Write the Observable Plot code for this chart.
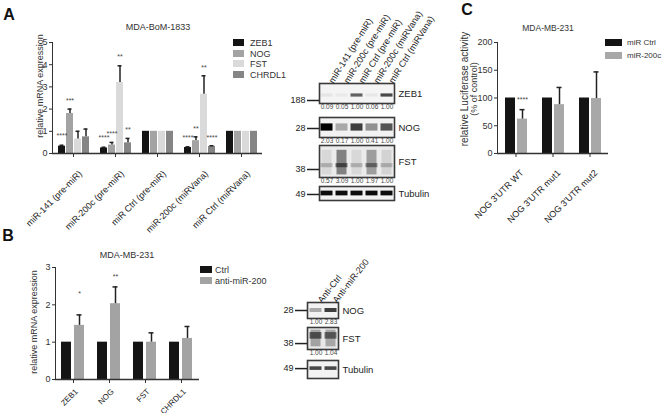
<!DOCTYPE html>
<html><head><meta charset="utf-8">
<script src="https://cdn.jsdelivr.net/npm/d3@7"></script>
<script src="https://cdn.jsdelivr.net/npm/@observablehq/plot@0.6"></script>
<style>
body{margin:0;background:#fff;}
#fig{position:relative;width:666px;height:413px;overflow:hidden;background:#fff;font-family:"Liberation Sans",Arial,sans-serif;color:#333;}
.abs{position:absolute;}
.t{position:absolute;white-space:nowrap;line-height:1;}
.sw{position:absolute;}
</style></head><body><div id="fig"></div>
<script>
// ---------- Panel A data ----------
const groupsA = ["miR-141 (pre-miR)", "miR-200c (pre-miR)", "miR Ctrl (pre-miR)", "miR-200c (miRVana)", "miR Ctrl (miRVana)"];
const genesA = ["ZEB1", "NOG", "FST", "CHRDL1"];
const colorsA = ["#141414", "#a3a3a3", "#dadada", "#858585"];
const valuesA = [[0.33, 1.80, 0.65, 0.75], [0.25, 0.38, 3.20, 0.48], [1, 1, 1, 1], [0.27, 0.58, 2.67, 0.32], [1, 1, 1, 1]];
const errA = [[0.04, 0.20, 0.35, 0.35], [0.03, 0.12, 0.75, 0.20], [0, 0, 0, 0], [0.03, 0.17, 0.83, 0.03], [0, 0, 0, 0]];
const starsA = [["****", "***", "", ""], ["****", "****", "**", "**"], ["", "", "", ""], ["****", "**", "**", "****"], ["", "", "", ""]];
const starPosA = [[0.9, 2.45, 0, 0], [0.8, 1.0, 4.45, 1.15], [0, 0, 0, 0], [0.8, 1.2, 3.95, 0.82], [0, 0, 0, 0]];
const ticksA = [0, 1, 2, 3, 4, 5];

// ---------- Panel B data ----------
const genesB = ["ZEB1", "NOG", "FST", "CHRDL1"];
const seriesB = ["Ctrl", "anti-miR-200"];
const colorsB = ["#141414", "#a3a3a3"];
const valuesB = [[1, 1.45], [1, 2.03], [1, 1.0], [1, 1.1]];
const errB = [[0, 0.28], [0, 0.45], [0, 0.25], [0, 0.32]];
const starsB = [["", "*"], ["", "**"], ["", ""], ["", ""]];
const starPosB = [[0, 2.35], [0, 2.8], [0, 0], [0, 0]];
const ticksB = [0, 1, 2, 3];

// ---------- Panel C data ----------
const constructsC = ["NOG 3'UTR WT", "NOG 3'UTR mut1", "NOG 3'UTR mut2"];
const seriesC = ["miR Ctrl", "miR-200c"];
const colorsC = ["#141414", "#a8a8a8"];
const valuesC = [[100, 62], [100, 88], [100, 99]];
const errC = [[0, 17], [0, 31], [0, 48]];
const starsC = [["", "****"], ["", ""], ["", ""]];
const starPosC = [[0, 101], [0, 0], [0, 0]];
const ticksC = [0, 50, 100, 150, 200];

// ---------- Western blot data ----------
const lanesA = groupsA;
const proteinsA = ["ZEB1", "NOG", "FST", "Tubulin"];
const mwA = ["188", "28", "38", "49"];
const quantA = [[0.09, 0.05, 1.00, 0.06, 1.00], [2.03, 0.17, 1.00, 0.41, 1.00], [0.57, 3.09, 1.00, 1.97, 1.00], null];
const bandsA = [[0.06, 0.04, 0.6, 0.05, 0.7], [1.0, 0.3, 0.75, 0.4, 0.65], [0.2, 0.5, 0.2, 0.4, 0.2], [0.95, 0.95, 0.95, 0.95, 0.95]];
const smearA = [null, null, [0.08, 0.45, 0.08, 0.33, 0.1], null];

const lanesB = ["Anti-Ctrl", "Anti-miR-200"];
const proteinsB = ["NOG", "FST", "Tubulin"];
const mwB = ["28", "38", "49"];
const quantB = [[1.00, 2.83], [1.00, 1.04], null];
const bandsB = [[0.3, 0.75], [0.55, 0.5], [0.7, 0.7]];
const smearB = [null, [0.3, 0.28], null];

// ---------- helpers ----------
const fig = document.getElementById("fig");
const FONT = '"Liberation Sans", Arial, sans-serif';
const baseStyle = {fontFamily: FONT, fontSize: "9px", color: "#333", background: "transparent", overflow: "visible", maxWidth: "none"};
let uid = 0;

function put(node, left, top) {
  const d = document.createElement("div");
  d.className = "abs"; d.style.left = left + "px"; d.style.top = top + "px";
  d.appendChild(node); fig.appendChild(d); return d;
}
function label(text, x, y, {size = 9, anchor = "middle", rotate = 0, weight = "normal", color = "#333", html = false, lh = 1} = {}) {
  const d = document.createElement("div");
  d.className = "t";
  if (html) d.innerHTML = text; else d.textContent = text;
  d.style.fontSize = size + "px"; d.style.fontWeight = weight; d.style.color = color;
  d.style.lineHeight = lh; d.style.textAlign = "center";
  d.style.left = x + "px"; d.style.top = y + "px";
  const tx = anchor === "middle" ? "-50%" : anchor === "end" ? "-100%" : "0";
  d.style.transform = `translate(${tx},-50%)` + (rotate ? ` rotate(${rotate}deg)` : "");
  fig.appendChild(d); return d;
}
function swatch(color, x, y, w, h) {
  const d = document.createElement("div");
  d.className = "sw"; d.style.left = x + "px"; d.style.top = y + "px";
  d.style.width = w + "px"; d.style.height = h + "px"; d.style.background = color;
  fig.appendChild(d);
}
function table(groups, series, values, errs, stars, starPos) {
  const rows = [];
  groups.forEach((g, i) => series.forEach((s, j) => rows.push({group: g, series: s, value: values[i][j], err: errs[i][j], star: stars[i][j], starY: starPos[i][j]})));
  return rows;
}
function groupedBars({data, groups, series, colors, yDomain, yTicks, left, top, width, height, mL, mR, mT, mB, pi, po, capInset, shift = [7, 7], fxFont = 9}) {
  const svg = Plot.plot({
    width, height, marginLeft: mL, marginRight: mR, marginTop: mT, marginBottom: mB,
    style: baseStyle,
    facet: {data, x: "group"},
    fx: {domain: groups, padding: 0, tickRotate: -45, label: null, tickSize: 4, axis: "bottom"},
    x: {domain: series, axis: null, paddingInner: pi, paddingOuter: po},
    y: {domain: yDomain, ticks: yTicks, tickFormat: d => String(d), tickSize: 3, tickPadding: 2, label: null, line: true},
    color: {domain: series, range: colors},
    marks: [
      Plot.barY(data, {x: "series", y: "value", fill: "series"}),
      Plot.ruleX(data, {filter: d => d.err > 0, x: "series", y1: "value", y2: d => d.value + d.err, stroke: "#222", strokeWidth: 1.5}),
      Plot.tickY(data, {filter: d => d.err > 0, x: "series", y: d => d.value + d.err, stroke: "#222", strokeWidth: 1.5, insetLeft: capInset, insetRight: capInset}),
      Plot.text(data, {filter: d => d.star, x: "series", y: "starY", text: "star", fontSize: 7, fill: "#444", dy: 2}),
      Plot.ruleY([0], {stroke: "#333", strokeWidth: 1.3})
    ]
  });
  d3.select(svg).selectAll('g[aria-label="fx-axis tick label"]').each(function() {
    const t = this.getAttribute("transform") || "";
    this.setAttribute("transform", `translate(${shift[0]},${shift[1]}) ` + t);
  });
  d3.select(svg).selectAll('g[aria-label="fx-axis tick label"] text').style("fill", "#222").style("font-size", fxFont + "px");
  put(svg, left, top);
  return svg;
}
function blotRow({lanes, bands, quant, smear, protein, mw, mwY, bandY, bandH, smearY1, smearY2, bg, boxLeft, boxTop, boxW, boxH, mT, mB, laneRotate, mL = 34, mR = 44, blur = 0.9}) {
  const data = lanes.map((l, i) => ({lane: l, v: bands[i], q: quant ? quant[i] : null, s: smear ? smear[i] : 0}));
  const marks = [Plot.frame({fill: bg})];
  if (smear) marks.push(Plot.barY(data, {x: "lane", y1: smearY1, y2: smearY2, fill: "#000", fillOpacity: "s", insetLeft: 2.5, insetRight: 2.5, ariaLabel: "smear"}));
  marks.push(Plot.barY(data, {x: "lane", y1: bandY - bandH / 2, y2: bandY + bandH / 2, fill: "#000", fillOpacity: "v", insetLeft: 1.5, insetRight: 1.5, ariaLabel: "band"}));
  marks.push(Plot.frame({stroke: "#3a3a3a", strokeWidth: 1.6}));
  if (quant) marks.push(Plot.text(data, {x: "lane", text: d => d.q.toFixed(2), frameAnchor: "bottom", dy: 5, fontSize: 6.5, fill: "#444"}));
  marks.push(Plot.text([protein], {frameAnchor: "right", textAnchor: "start", dx: 4, fontSize: 9.5, fill: "#222"}));
  marks.push(Plot.text([mw], {frameAnchor: "left", y: mwY, textAnchor: "end", dx: -14, fontSize: 9, fill: "#222"}));
  marks.push(Plot.ruleY([mwY], {insetLeft: -12, insetRight: boxW, stroke: "#222", strokeWidth: 1.5}));
  if (laneRotate) marks.push(Plot.text(lanes, {x: d => d, text: d => d, frameAnchor: "top", rotate: laneRotate, textAnchor: "start", dy: -3, dx: 1, fontSize: 9, fill: "#222"}));
  const svg = Plot.plot({
    width: mL + boxW + mR, height: mT + boxH + mB,
    marginLeft: mL, marginRight: mR, marginTop: mT, marginBottom: mB,
    style: baseStyle,
    x: {domain: lanes, axis: null, padding: 0},
    y: {domain: [0, 1], axis: null},
    marks
  });
  const id = "blur" + (++uid);
  const defs = d3.select(svg).insert("defs", ":first-child");
  defs.append("filter").attr("id", id)
    .attr("x", "-50%").attr("y", "-100%").attr("width", "200%").attr("height", "300%")
    .append("feGaussianBlur").attr("stdDeviation", blur);
  defs.append("filter").attr("id", id + "s")
    .attr("x", "-50%").attr("y", "-50%").attr("width", "200%").attr("height", "200%")
    .append("feGaussianBlur").attr("stdDeviation", 2.2);
  d3.select(svg).selectAll('g[aria-label="band"]').attr("filter", `url(#${id})`);
  d3.select(svg).selectAll('g[aria-label="smear"]').attr("filter", `url(#${id}s)`);
  put(svg, boxLeft - mL, boxTop - mT);
}

// ---------- Panel A ----------
groupedBars({data: table(groupsA, genesA, valuesA, errA, starsA, starPosA), groups: groupsA, series: genesA, colors: colorsA,
  yDomain: [0, 5], yTicks: ticksA, left: 0, top: 0, width: 267, height: 222, mL: 52, mR: 5, mT: 42, mB: 69, pi: 0.17, po: 0.42, capInset: 1.5, shift: [7, 7]});
label("A", 9, 15, {size: 16, weight: "bold", color: "#111"});
label("MDA-BoM-1833", 158, 27);
label("relative mRNA expression", 40, 86, {rotate: -90});
genesA.forEach((g, i) => { swatch(colorsA[i], 233, 39 + i * 10.6, 11, 7); label(g, 250, 43 + i * 10.6, {anchor: "start"}); });

// ---------- Panel B ----------
groupedBars({data: table(genesB, seriesB, valuesB, errB, starsB, starPosB), groups: genesB, series: seriesB, colors: colorsB,
  yDomain: [0, 3], yTicks: ticksB, left: 0, top: 240, width: 205, height: 172, mL: 53, mR: 5, mT: 27, mB: 33, pi: 0.22, po: 0.47, capInset: 2.5, shift: [3, -1], fxFont: 8});
label("B", 8, 236, {size: 16, weight: "bold", color: "#111"});
label("MDA-MB-231", 127, 255);
label("relative mRNA expression", 34, 322, {rotate: -90});
seriesB.forEach((s, i) => { swatch(colorsB[i], 200, 266 + i * 11, 12, 7); label(s, 215, 270 + i * 11, {anchor: "start"}); });

// ---------- Panel C ----------
groupedBars({data: table(constructsC, seriesC, valuesC, errC, starsC, starPosC), groups: constructsC, series: seriesC, colors: colorsC,
  yDomain: [0, 200], yTicks: ticksC, left: 440, top: 0, width: 173, height: 219, mL: 57, mR: 5, mT: 42, mB: 66, pi: 0.2, po: 0.58, capInset: 2.5, shift: [6, 6]});
label("C", 467, 10, {size: 16, weight: "bold", color: "#111"});
label("MDA-MB-231", 548, 28, {size: 8.5});
label('<span style="font-size:10px">relative Luciferase activity</span><br><span style="font-size:9px">(% of control)</span>', 469, 89, {rotate: -90, html: true, lh: 1.0});
seriesC.forEach((s, i) => { swatch(colorsC[i], 605, 39 + i * 13, 17, 7); label(s, 627, 43 + i * 13, {anchor: "start", size: 8}); });

// ---------- Blot A ----------
const rowsLayoutA = [
  {boxTop: 83, boxH: 20, mT: 75, mB: 10, mwY: 0.15, bandY: 0.4, bandH: 0.16, bg: "#f4f4f4"},
  {boxTop: 117, boxH: 20, mT: 3, mB: 10, mwY: 0.45, bandY: 0.5, bandH: 0.36, bg: "#f2f2f2"},
  {boxTop: 145, boxH: 32, mT: 3, mB: 9, mwY: 0.25, bandY: 0.37, bandH: 0.13, bg: "#ebebeb", smearY1: 0.08, smearY2: 0.85},
  {boxTop: 186, boxH: 14, mT: 3, mB: 3, mwY: 0.43, bandY: 0.5, bandH: 0.34, bg: "#f2f2f2"}
];
proteinsA.forEach((p, i) => blotRow({lanes: lanesA, bands: bandsA[i], quant: quantA[i], smear: smearA[i], protein: p, mw: mwA[i],
  boxLeft: 319, boxW: 75, laneRotate: i === 0 ? -58 : 0, ...rowsLayoutA[i]}));

// ---------- Blot B ----------
const rowsLayoutB = [
  {boxTop: 302, boxH: 16, mT: 55, mB: 8, mwY: 0.5, bandY: 0.5, bandH: 0.25, bg: "#f2f2f2"},
  {boxTop: 327, boxH: 22, mT: 3, mB: 9, mwY: 0.27, bandY: 0.62, bandH: 0.3, bg: "#e8e8e8", smearY1: 0.12, smearY2: 0.88},
  {boxTop: 360, boxH: 18, mT: 3, mB: 3, mwY: 0.55, bandY: 0.55, bandH: 0.2, bg: "#f2f2f2"}
];
proteinsB.forEach((p, i) => blotRow({lanes: lanesB, bands: bandsB[i], quant: quantB[i], smear: smearB[i], protein: p, mw: mwB[i],
  boxLeft: 307, boxW: 31, laneRotate: i === 0 ? -52 : 0, ...rowsLayoutB[i]}));
</script></body></html>
